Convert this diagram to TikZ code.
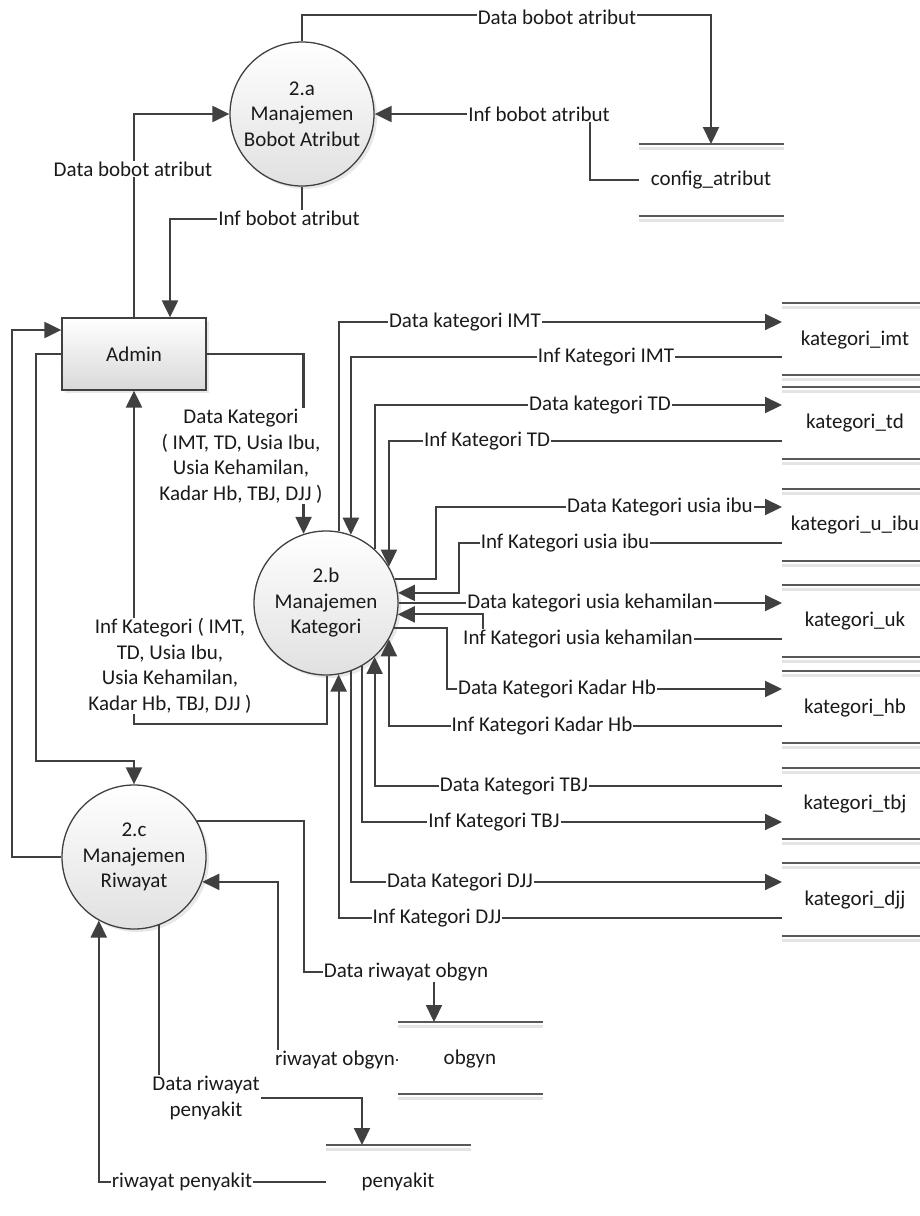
\documentclass[tikz,border=0pt]{standalone}
\usepackage{fontspec}
\setmainfont{Carlito}
\usetikzlibrary{arrows.meta,shadows}
\definecolor{ink}{HTML}{404040}
\definecolor{txt}{HTML}{1A1A1A}
\definecolor{storeline}{HTML}{595959}
\definecolor{storeshade}{HTML}{E4E4E4}
\newcommand\lblfont{\fontsize{21}{25.5}\selectfont}
% one line of a data store, with its light shadow underneath
\newcommand\dsline[3]{%
  \draw[storeshade,line width=3pt] (#1,#3+4) -- (#2,#3+4);
  \draw[storeline,line width=1.5pt] (#1,#3) -- (#2,#3);}
\tikzset{
  flow/.style={draw=ink, line width=2.2pt, -{Triangle[length=17pt 0,width=16pt 0]}},
  plain/.style={draw=ink, line width=2.2pt},
  lbl/.style={fill=white, inner sep=1pt, text=txt, font=\lblfont, align=center},
  proc/.style={circle, draw=ink, line width=1.3pt, minimum size=144pt, inner sep=0pt,
    top color=white, bottom color=black!12, align=center, font=\lblfont, text=txt,
    drop shadow={shadow xshift=3pt, shadow yshift=-3pt, opacity=0.18}},
  ent/.style={rectangle, draw=ink, line width=1.3pt, minimum width=144pt, minimum height=72pt,
    top color=white, bottom color=black!15, font=\lblfont, text=txt,
    drop shadow={shadow xshift=3pt, shadow yshift=-3pt, opacity=0.18}},
  stxt/.style={font=\lblfont, text=txt, inner sep=0pt},
}
\begin{document}
\begin{tikzpicture}[x=1pt,y=-1pt]
\useasboundingbox (0,0) rectangle (920,1216);

% ---------- processes and entity ----------
\node[proc] (pa) at (302,114) {2.a\\Manajemen\\Bobot Atribut};
\node[proc] (pb) at (326,603) {2.b\\Manajemen\\Kategori};
\node[proc] (pc) at (134,857) {2.c\\Manajemen\\Riwayat};
\node[ent] (admin) at (134,354) {Admin};

% ---------- data stores ----------
\dsline{639}{784}{144}\dsline{639}{784}{216}
\node[stxt] (cfg) at (711,180) {config\_atribut};
\coordinate (cfg-in) at (711,144);
\coordinate (cfg-out) at (639,180);

\foreach \t/\b in {303/375,387/459,489/561,585/657,671/743,768/839,863/936}{
  \dsline{782}{925}{\t}\dsline{782}{925}{\b}}
\node[stxt] (simt) at (855,340) {kategori\_imt};
\node[stxt] (std)  at (855,423) {kategori\_td};
\node[stxt] (sui)  at (855,525) {kategori\_u\_ibu};
\node[stxt] (suk)  at (855,621) {kategori\_uk};
\node[stxt] (shb)  at (855,708) {kategori\_hb};
\node[stxt] (stbj) at (855,804) {kategori\_tbj};
\node[stxt] (sdjj) at (855,900) {kategori\_djj};

\coordinate (imt-a) at (782,322); \coordinate (imt-b) at (782,357);
\coordinate (td-a)  at (782,405); \coordinate (td-b)  at (782,441);
\coordinate (ui-a)  at (782,507); \coordinate (ui-b)  at (782,543);
\coordinate (uk-a)  at (782,603); \coordinate (uk-b)  at (782,639);
\coordinate (hb-a)  at (782,689); \coordinate (hb-b)  at (782,726);
\coordinate (tbj-a) at (782,786); \coordinate (tbj-b) at (782,822);
\coordinate (djj-a) at (782,882); \coordinate (djj-b) at (782,918);

\dsline{398}{543}{1022}\dsline{398}{543}{1094}
\node[stxt] (sob) at (470,1059) {obgyn};
\coordinate (ob-in) at (434,1022);
\coordinate (ob-out) at (398,1060);

\dsline{326}{471}{1145}
\node[stxt] (spy) at (398,1182) {penyakit};
\coordinate (py-in) at (362,1145);
\coordinate (py-out) at (326,1182);

% ---------- flows of 2.a ----------
\draw[flow] (pa.north) -- ++(0,-26) -| (cfg-in);
\draw[flow] (cfg-out) -- ++(-49,0) |- (pa.east);
\draw[flow] (admin.north) |- (pa.west);
\draw[flow] (pa.south) -- ++(0,32) -| ([xshift=36pt]admin.north);

% ---------- flows between Admin, 2.b and 2.c ----------
\draw[flow] (admin.east) -| (pb.108.6);
\draw[flow] (pb.-89.2) -- ++(0,48) -| (admin.south);
\draw[flow] (pc.west) -- ++(-49,0) |- ([yshift=24pt]admin.west);
\draw[flow] (admin.west) -- ++(-25,0) |- ([yshift=23pt]pc.north) -- (pc.north);

% ---------- flows of 2.b ----------
\draw[flow] (pb.80.8) |- (imt-a);
\draw[flow] (imt-b) -| (pb.70.5);
\draw[flow] (pb.48.2) |- (td-a);
\draw[flow] (td-b) -| (pb.30.6);
\draw[flow] (pb.19.5) -- ++(41,0) |- (ui-a);
\draw[flow] (ui-b) -- ++(-323,0) |- (pb.8.8);
\draw[flow] (pb.east) -- (uk-a);
\draw[flow] (uk-b) -- ++(-299,0) |- (pb.-9.6);
\draw[flow] (pb.-20.3) -- ++(52.5,0) |- (hb-a);
\draw[flow] (hb-b) -| (pb.-30.6);
\draw[flow] (tbj-a) -| (pb.-48.2);
\draw[flow] (pb.-60) |- (tbj-b);
\draw[flow] (pb.-70.5) |- (djj-a);
\draw[flow] (djj-b) -| (pb.-80.4);

% ---------- flows of 2.c ----------
\draw[flow] (pc.30) -- ++(107,0) |- ([yshift=50pt]ob-in) -- (ob-in);
\draw[flow] (ob-out) -- ++(-120,0) |- (pc.-20.3);
\draw[flow] (pc.-70.5) |- ([yshift=47pt]py-in) -- (py-in);
\draw[flow] (py-out) -| (pc.-119.1);

% ---------- flow labels ----------
\node[lbl] (l1) at (557,17) {Data bobot atribut};
\node[lbl] (l2) at (539,114) {Inf bobot atribut};
\node[lbl] (l3) at (133,169) {Data bobot atribut};
\node[lbl] (l4) at (289,218) {Inf bobot atribut};
\node[lbl] (l5) at (241,456) {Data Kategori\\( IMT, TD, Usia Ibu,\\Usia Kehamilan,\\Kadar Hb, TBJ, DJJ )};
\node[lbl] (l6) at (170,666) {Inf Kategori ( IMT,\\TD, Usia Ibu,\\Usia Kehamilan,\\Kadar Hb, TBJ, DJJ )};
\node[lbl] (k1)  at (465,322) {Data kategori IMT};
\node[lbl] (k2)  at (606,357) {Inf Kategori IMT};
\node[lbl] (k3)  at (600,405) {Data kategori TD};
\node[lbl] (k4)  at (487,441) {Inf Kategori TD};
\node[lbl] (k5)  at (660,507) {Data Kategori usia ibu};
\node[lbl] (k6)  at (565,543) {Inf Kategori usia ibu};
\node[lbl] (k7)  at (590,603) {Data kategori usia kehamilan};
\node[lbl] (k8)  at (578,639) {Inf Kategori usia kehamilan};
\node[lbl] (k9)  at (557,689) {Data Kategori Kadar Hb};
\node[lbl] (k10) at (542,726) {Inf Kategori Kadar Hb};
\node[lbl] (k11) at (514,786) {Data Kategori TBJ};
\node[lbl] (k12) at (494,822) {Inf Kategori TBJ};
\node[lbl] (k13) at (460,882) {Data Kategori DJJ};
\node[lbl] (k14) at (437,918) {Inf Kategori DJJ};
\node[lbl] (r1) at (406,972) {Data riwayat obgyn};
\node[lbl] (r2) at (335,1060) {riwayat obgyn};
\node[lbl] (r3) at (206,1098) {Data riwayat\\penyakit};
\node[lbl] (r4) at (182,1182) {riwayat penyakit};
\end{tikzpicture}
\end{document}
